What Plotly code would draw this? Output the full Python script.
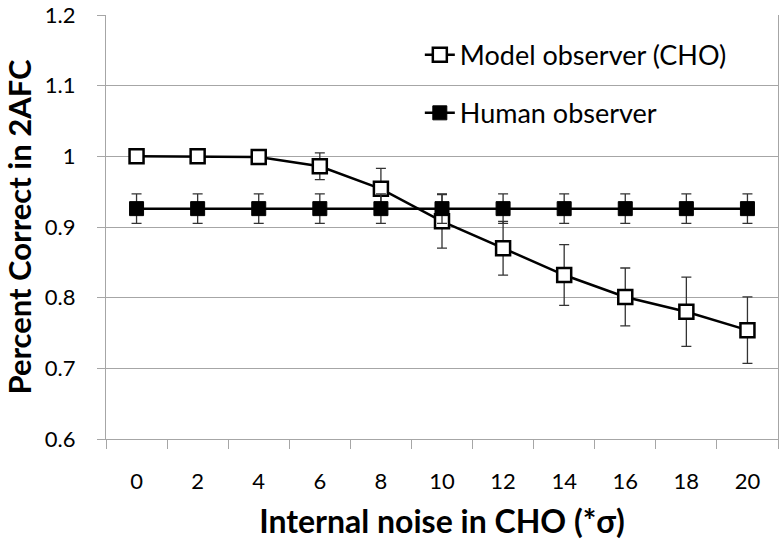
import plotly.graph_objects as go

noise_levels = [0, 2, 4, 6, 8, 10, 12, 14, 16, 18, 20]
tick_labels = ["0", "2", "4", "6", "8", "10", "12", "14", "16", "18", "20"]
model_pc = [1.000, 1.000, 0.999, 0.986, 0.954, 0.908, 0.870, 0.832, 0.801, 0.780, 0.754]
model_err = [0.001, 0.003, 0.002, 0.019, 0.029, 0.038, 0.038, 0.043, 0.041, 0.049, 0.047]
human_pc = [0.926] * 11
human_err = [0.021] * 11
category_edges = [-1, 1, 3, 5, 7, 9, 11, 13, 15, 17, 19, 21]

FONT = "Lato"
GRID = "#a6a6a6"
PAD = "\u00a0" * 3

fig = go.Figure()
fig.add_trace(go.Scatter(
    x=noise_levels, y=model_pc, name="Model observer (CHO)", mode="lines+markers",
    line=dict(color="black", width=2.5),
    marker=dict(symbol="square", size=14, color="white", line=dict(color="black", width=2.5)),
    error_y=dict(type="data", array=model_err, color="#333333", thickness=1.3, width=5),
    legendgroup="a",
))
fig.add_trace(go.Scatter(
    x=noise_levels, y=human_pc, name="Human observer", mode="lines+markers",
    line=dict(color="black", width=2.5),
    marker=dict(symbol="square", size=14, color="black", line=dict(color="black", width=1)),
    error_y=dict(type="data", array=human_err, color="#333333", thickness=1.3, width=5),
    legendgroup="b",
))

fig.update_layout(
    width=780, height=546,
    margin=dict(l=106, r=2, t=15, b=107),
    paper_bgcolor="white", plot_bgcolor="white",
    font=dict(family=FONT, color="black", size=22),
    legend=dict(x=0.467, y=0.963, xanchor="left", yanchor="top",
                bgcolor="rgba(0,0,0,0)", font=dict(size=27, family=FONT),
                tracegroupgap=20, traceorder="grouped", itemwidth=30),
    xaxis=dict(
        range=[-1, 21], tickmode="array", tickvals=noise_levels, ticktext=tick_labels,
        ticks="outside", ticklen=22, tickcolor="white",
        minor=dict(tickmode="array", tickvals=category_edges, ticks="outside",
                   ticklen=9, tickcolor=GRID, showgrid=False),
        showline=True, linecolor=GRID, linewidth=1.3, zeroline=False,
        showgrid=False, tickfont=dict(size=22), automargin=False,
        title=dict(text="Internal noise in CHO (*σ)", font=dict(size=32, family=FONT, weight="bold"),
                   standoff=18),
    ),
    yaxis=dict(
        range=[0.6, 1.2], dtick=0.1, ticks="outside", ticklen=8, tickcolor=GRID,
        ticksuffix=PAD, ticklabeloverflow="allow",
        showline=True, linecolor=GRID, linewidth=1.3, mirror=True,
        showgrid=True, gridcolor=GRID, gridwidth=1.3, zeroline=False,
        tickfont=dict(size=22), automargin=False,
        title=dict(text="Percent Correct in 2AFC", font=dict(size=31, family=FONT, weight="bold"),
                   standoff=12),
    ),
)

fig.write_html("out.html", config={"displayModeBar": False},
               post_script="document.body.style.margin='0';document.body.style.overflow='hidden';")
